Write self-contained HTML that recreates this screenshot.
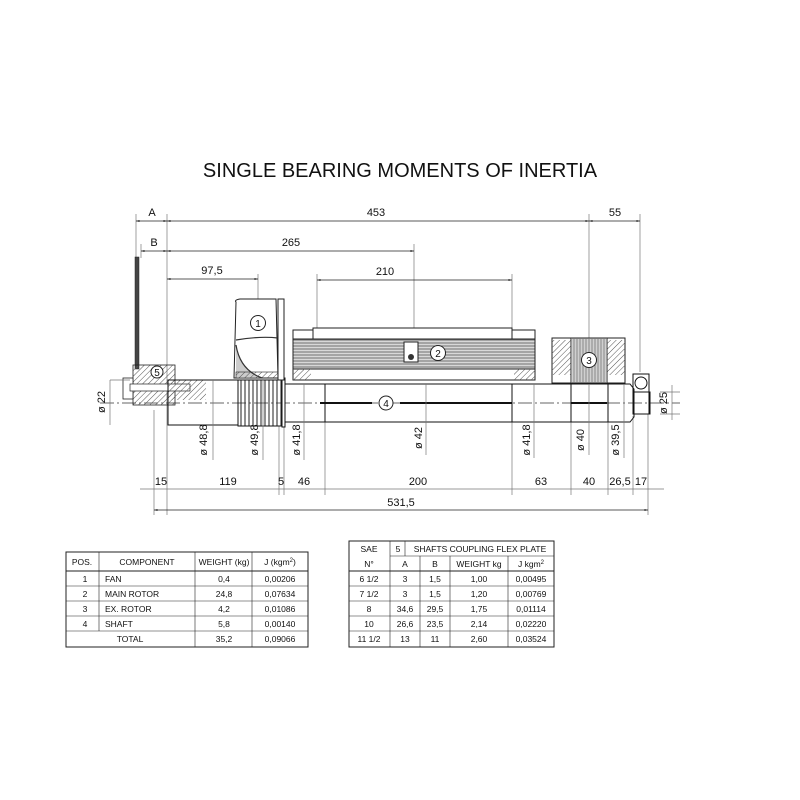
<!DOCTYPE html>
<html><head><meta charset="utf-8"><style>
html,body{margin:0;padding:0;background:#fff}
svg{display:block}
text{font-family:"Liberation Sans",sans-serif;fill:#111}
</style></head><body>
<svg width="800" height="800" viewBox="0 0 800 800" xmlns="http://www.w3.org/2000/svg">
<defs>
<marker id="ar" viewBox="0 0 10 10" refX="10" refY="5" markerWidth="7" markerHeight="5" orient="auto-start-reverse"><path d="M0,2 L10,5 L0,8 z" fill="#222"/></marker>
<pattern id="hat" width="4" height="4" patternUnits="userSpaceOnUse" patternTransform="rotate(45)"><line x1="0" y1="0" x2="0" y2="4" stroke="#555" stroke-width="1"/></pattern>
<pattern id="lam" width="4" height="3" patternUnits="userSpaceOnUse"><rect width="4" height="3" fill="#d8d8d8"/><line x1="0" y1="1" x2="4" y2="1" stroke="#555" stroke-width="0.8"/></pattern>
<pattern id="vst" width="3" height="4" patternUnits="userSpaceOnUse"><line x1="1" y1="0" x2="1" y2="4" stroke="#777" stroke-width="0.8"/></pattern>
<pattern id="ser" width="4" height="4" patternUnits="userSpaceOnUse"><line x1="1" y1="0" x2="1" y2="4" stroke="#222" stroke-width="1"/></pattern>
</defs>

<text x="400" y="177" font-size="20" text-anchor="middle">SINGLE BEARING MOMENTS OF INERTIA</text>

<g stroke="#777" stroke-width="0.7" fill="none">
<line x1="136" y1="214" x2="136" y2="258"/>
<line x1="167" y1="214" x2="167" y2="515"/>
<line x1="141" y1="244" x2="141" y2="258"/>
<line x1="589" y1="214" x2="589" y2="340"/>
<line x1="640" y1="214" x2="640" y2="372"/>
<line x1="414" y1="244" x2="414" y2="345"/>
<line x1="258" y1="274" x2="258" y2="300"/>
<line x1="317" y1="274" x2="317" y2="328"/>
<line x1="512" y1="274" x2="512" y2="328"/>
<line x1="154" y1="410" x2="154" y2="515"/>
<line x1="279" y1="426" x2="279" y2="495"/>
<line x1="284" y1="426" x2="284" y2="495"/>
<line x1="325" y1="422" x2="325" y2="495"/>
<line x1="512" y1="422" x2="512" y2="495"/>
<line x1="571" y1="422" x2="571" y2="495"/>
<line x1="608" y1="422" x2="608" y2="495"/>
<line x1="633" y1="416" x2="633" y2="495"/>
<line x1="648" y1="414" x2="648" y2="515"/>
</g>
<g stroke="#222" stroke-width="0.7" fill="none">
<line x1="136" y1="221" x2="167" y2="221" marker-start="url(#ar)" marker-end="url(#ar)"/>
<line x1="167" y1="221" x2="589" y2="221" marker-start="url(#ar)" marker-end="url(#ar)"/>
<line x1="589" y1="221" x2="640" y2="221" marker-start="url(#ar)" marker-end="url(#ar)"/>
<line x1="141" y1="251" x2="167" y2="251" marker-start="url(#ar)" marker-end="url(#ar)"/>
<line x1="167" y1="251" x2="414" y2="251" marker-start="url(#ar)" marker-end="url(#ar)"/>
<line x1="167" y1="279" x2="258" y2="279" marker-start="url(#ar)" marker-end="url(#ar)"/>
<line x1="317" y1="280" x2="512" y2="280" marker-start="url(#ar)" marker-end="url(#ar)"/>
<line x1="140" y1="489" x2="664" y2="489" stroke="#777"/>
<line x1="154" y1="510" x2="648" y2="510" marker-start="url(#ar)" marker-end="url(#ar)"/>
</g>
<g font-size="11" text-anchor="middle">
<text x="152" y="216">A</text><text x="376" y="216">453</text><text x="615" y="216">55</text>
<text x="154" y="246">B</text><text x="291" y="246">265</text>
<text x="212" y="274">97,5</text><text x="385" y="275">210</text>
<text x="161" y="485">15</text><text x="228" y="485">119</text><text x="281" y="485">5</text>
<text x="304" y="485">46</text><text x="418" y="485">200</text><text x="541" y="485">63</text>
<text x="589" y="485">40</text><text x="620" y="485">26,5</text><text x="641" y="485">17</text>
<text x="401" y="506">531,5</text>
</g>

<line x1="100" y1="403" x2="680" y2="403" stroke="#333" stroke-width="0.7" stroke-dasharray="14,3,2,3"/>

<rect x="135" y="257" width="4" height="112" fill="#444" stroke="#222" stroke-width="0.5"/>
<rect x="133" y="365" width="42" height="40" fill="url(#hat)" stroke="#222" stroke-width="0.8"/>
<rect x="123" y="378" width="10" height="21" fill="#fff" stroke="#222" stroke-width="0.8"/>
<rect x="130" y="384" width="60" height="7" fill="#fff" stroke="#222" stroke-width="0.7"/>
<rect x="168" y="380" width="38" height="20" fill="url(#hat)" stroke="none"/>
<circle cx="157" cy="372" r="6" fill="#fff" stroke="#222"/><text x="157" y="376" font-size="10" text-anchor="middle">5</text>

<g stroke="#111" stroke-width="1" fill="#fff">
<rect x="168" y="380" width="70" height="45" fill="none"/>
<rect x="238" y="380" width="44" height="46" fill="url(#ser)"/>
<rect x="282" y="378" width="3" height="49"/>
<rect x="285" y="384" width="227" height="38" fill="none"/>
<line x1="325" y1="384" x2="325" y2="422"/>
<rect x="512" y="384" width="59" height="38" fill="none"/>
<rect x="571" y="384" width="37" height="38" fill="none"/>
<path d="M608,384 L630,384 L634,389 L634,417 L630,422 L608,422" fill="none"/>
<rect x="634" y="392" width="16" height="22" fill="none"/>
<rect x="633" y="374" width="16" height="40" fill="none"/>
<circle cx="641" cy="383" r="6"/>
</g>
<line x1="320" y1="403" x2="372" y2="403" stroke="#111" stroke-width="2"/>
<line x1="400" y1="403" x2="512" y2="403" stroke="#111" stroke-width="2"/>
<line x1="571" y1="403" x2="607" y2="403" stroke="#111" stroke-width="2"/>
<circle cx="386" cy="403" r="7" fill="#fff" stroke="#222"/><text x="386" y="407" font-size="10" text-anchor="middle">4</text>

<path d="M236,302 Q234,300 240,299 L276,299 L278,378 L234,378 Z" fill="#fff" stroke="#222" stroke-width="1"/>
<path d="M236,345 Q240,370 262,378 L236,378 Z" fill="#ccc"/>
<path d="M236,340 Q260,336 278,338 M236,345 Q240,370 262,378" fill="none" stroke="#333" stroke-width="1.2"/>
<rect x="236" y="372" width="42" height="6" fill="url(#hat)" stroke="#222" stroke-width="0.6"/>
<rect x="278" y="299" width="6" height="81" fill="#fff" stroke="#222"/>
<circle cx="258" cy="323" r="7.5" fill="#fff" stroke="#222"/><text x="258" y="327" font-size="10" text-anchor="middle">1</text>

<rect x="313" y="328" width="199" height="11" fill="#fff" stroke="#222"/>
<rect x="293" y="330" width="20" height="9" fill="#fff" stroke="#222"/>
<rect x="512" y="330" width="23" height="9" fill="#fff" stroke="#222"/>
<rect x="293" y="339" width="242" height="30" fill="url(#lam)" stroke="#222"/>
<rect x="293" y="369" width="242" height="11" fill="#fff" stroke="#222"/>
<rect x="293" y="369" width="18" height="11" fill="url(#hat)"/>
<rect x="514" y="369" width="21" height="11" fill="url(#hat)"/>
<rect x="404" y="342" width="14" height="20" fill="#fff" stroke="#222"/>
<circle cx="411" cy="357" r="3" fill="#333"/>
<circle cx="438" cy="353" r="7.5" fill="#fff" stroke="#222"/><text x="438" y="357" font-size="10" text-anchor="middle">2</text>

<rect x="552" y="338" width="73" height="45" fill="#fff" stroke="#222"/>
<rect x="552" y="340" width="19" height="35" fill="url(#hat)"/>
<rect x="607" y="340" width="18" height="35" fill="url(#hat)"/>
<rect x="571" y="338" width="36" height="45" fill="#d0d0d0" stroke="#222"/>
<rect x="571" y="338" width="36" height="45" fill="url(#vst)"/>
<circle cx="589" cy="360" r="7.5" fill="#fff" stroke="#222"/><text x="589" y="364" font-size="10" text-anchor="middle">3</text>

<g stroke="#777" stroke-width="0.7">
<line x1="213" y1="380" x2="213" y2="460"/><line x1="263" y1="380" x2="263" y2="460"/>
<line x1="304" y1="384" x2="304" y2="460"/><line x1="426" y1="384" x2="426" y2="455"/>
<line x1="534" y1="384" x2="534" y2="458"/><line x1="589" y1="384" x2="589" y2="455"/>
<line x1="624" y1="384" x2="624" y2="458"/>
<line x1="110" y1="380" x2="110" y2="425"/><line x1="110" y1="380" x2="130" y2="380"/>
<line x1="660" y1="392" x2="680" y2="392"/><line x1="660" y1="414" x2="680" y2="414"/><line x1="672" y1="385" x2="672" y2="420"/>
</g>
<g font-size="11" text-anchor="middle">
<text transform="translate(207,440) rotate(-90)">ø 48,8</text>
<text transform="translate(258,440) rotate(-90)">ø 49,8</text>
<text transform="translate(300,440) rotate(-90)">ø 41,8</text>
<text transform="translate(422,438) rotate(-90)">ø 42</text>
<text transform="translate(530,440) rotate(-90)">ø 41,8</text>
<text transform="translate(584,440) rotate(-90)">ø 40</text>
<text transform="translate(619,440) rotate(-90)">ø 39,5</text>
<text transform="translate(105,402) rotate(-90)">ø 22</text>
<text transform="translate(667,403) rotate(-90)">ø 25</text>
</g>

<g stroke="#222" stroke-width="1" fill="none">
<rect x="66" y="552" width="242" height="95"/>
<line x1="66" y1="571" x2="308" y2="571"/>
<line x1="66" y1="586" x2="308" y2="586" stroke-width="0.6"/>
<line x1="66" y1="601" x2="308" y2="601" stroke-width="0.6"/>
<line x1="66" y1="616" x2="308" y2="616" stroke-width="0.6"/>
<line x1="66" y1="631" x2="308" y2="631" stroke-width="0.6"/>
<line x1="99" y1="552" x2="99" y2="631" stroke-width="0.6"/>
<line x1="195" y1="552" x2="195" y2="647" stroke-width="0.6"/>
<line x1="252" y1="552" x2="252" y2="647" stroke-width="0.6"/>
</g>
<g font-size="8.5">
<text x="82" y="565" text-anchor="middle">POS.</text><text x="147" y="565" text-anchor="middle">COMPONENT</text>
<text x="224" y="565" text-anchor="middle">WEIGHT (kg)</text><text x="280" y="565" text-anchor="middle">J (kgm<tspan font-size="6" dy="-3">2</tspan><tspan dy="3">)</tspan></text>
<text x="85" y="582" text-anchor="middle">1</text><text x="105" y="582">FAN</text><text x="224" y="582" text-anchor="middle">0,4</text><text x="280" y="582" text-anchor="middle">0,00206</text>
<text x="85" y="597" text-anchor="middle">2</text><text x="105" y="597">MAIN ROTOR</text><text x="224" y="597" text-anchor="middle">24,8</text><text x="280" y="597" text-anchor="middle">0,07634</text>
<text x="85" y="612" text-anchor="middle">3</text><text x="105" y="612">EX. ROTOR</text><text x="224" y="612" text-anchor="middle">4,2</text><text x="280" y="612" text-anchor="middle">0,01086</text>
<text x="85" y="627" text-anchor="middle">4</text><text x="105" y="627">SHAFT</text><text x="224" y="627" text-anchor="middle">5,8</text><text x="280" y="627" text-anchor="middle">0,00140</text>
<text x="130" y="642" text-anchor="middle">TOTAL</text><text x="224" y="642" text-anchor="middle">35,2</text><text x="280" y="642" text-anchor="middle">0,09066</text>
</g>

<g stroke="#222" stroke-width="1" fill="none">
<rect x="349" y="541" width="205" height="106"/>
<line x1="390" y1="556" x2="554" y2="556" stroke-width="0.6"/>
<line x1="349" y1="571" x2="554" y2="571"/>
<line x1="349" y1="586" x2="554" y2="586" stroke-width="0.6"/>
<line x1="349" y1="601" x2="554" y2="601" stroke-width="0.6"/>
<line x1="349" y1="616" x2="554" y2="616" stroke-width="0.6"/>
<line x1="349" y1="631" x2="554" y2="631" stroke-width="0.6"/>
<line x1="390" y1="541" x2="390" y2="647" stroke-width="0.6"/>
<line x1="405" y1="541" x2="405" y2="556" stroke-width="0.6"/>
<line x1="420" y1="556" x2="420" y2="647" stroke-width="0.6"/>
<line x1="450" y1="556" x2="450" y2="647" stroke-width="0.6"/>
<line x1="508" y1="556" x2="508" y2="647" stroke-width="0.6"/>
</g>
<g font-size="8.5" text-anchor="middle">
<text x="369" y="552">SAE</text><text x="398" y="552">5</text><text x="480" y="552">SHAFTS COUPLING FLEX PLATE</text>
<text x="369" y="567">N°</text><text x="405" y="567">A</text><text x="435" y="567">B</text><text x="479" y="567">WEIGHT  kg</text><text x="531" y="567">J kgm<tspan font-size="6" dy="-3">2</tspan></text>
<text x="369" y="582">6 1/2</text><text x="405" y="582">3</text><text x="435" y="582">1,5</text><text x="479" y="582">1,00</text><text x="531" y="582">0,00495</text>
<text x="369" y="597">7 1/2</text><text x="405" y="597">3</text><text x="435" y="597">1,5</text><text x="479" y="597">1,20</text><text x="531" y="597">0,00769</text>
<text x="369" y="612">8</text><text x="405" y="612">34,6</text><text x="435" y="612">29,5</text><text x="479" y="612">1,75</text><text x="531" y="612">0,01114</text>
<text x="369" y="627">10</text><text x="405" y="627">26,6</text><text x="435" y="627">23,5</text><text x="479" y="627">2,14</text><text x="531" y="627">0,02220</text>
<text x="369" y="642">11 1/2</text><text x="405" y="642">13</text><text x="435" y="642">11</text><text x="479" y="642">2,60</text><text x="531" y="642">0,03524</text>
</g>
</svg>
</body></html>
